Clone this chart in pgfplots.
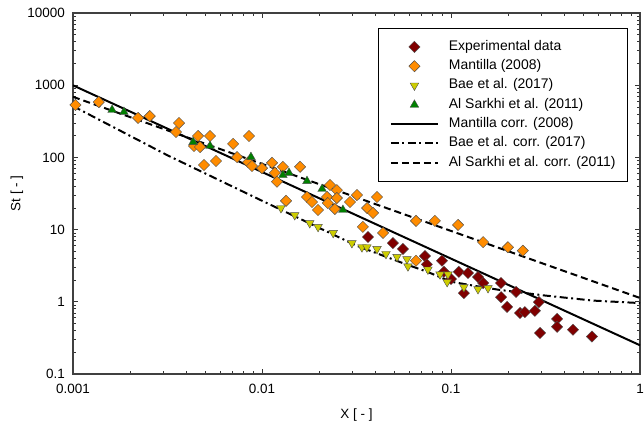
\documentclass[border=0pt]{standalone}
\usepackage{fontspec}
\setmainfont{Liberation Sans}
\usepackage{pgfplots}
\pgfplotsset{compat=1.18}
\definecolor{expred}{RGB}{128,0,0}
\definecolor{mantor}{RGB}{255,140,0}
\definecolor{baeyel}{RGB}{205,205,0}
\definecolor{sarkgr}{RGB}{0,128,0}
\begin{document}
\begin{tikzpicture}
\useasboundingbox (0,0) rectangle (644bp,435bp);
\begin{axis}[
  at={(73bp,61bp)}, anchor=south west,
  scale only axis, width=567bp, height=361bp,
  xmode=log, ymode=log,
  xmin=0.001, xmax=1, ymin=0.1, ymax=10000,
  xtick={0.001,0.01,0.1,1}, xticklabels={0.001,0.01,0.1,1},
  ytick={0.1,1,10,100,1000,10000}, yticklabels={0.1,1,10,100,1000,10000},
  tick align=inside,
  major tick length=5bp, minor tick length=3bp,
  every tick/.style={black!80, line width=0.7pt},
  axis line style={black!75, line width=1.2pt},
  font=\fontsize{13.5}{15}\selectfont,
  xticklabel style={inner sep=0pt, anchor=north, yshift=-10bp},
  yticklabel style={inner sep=0pt, anchor=east, xshift=-8bp},
  xlabel={X [ - ]}, ylabel={St [ - ]},
  xlabel style={at={(axis description cs:0.5,-0.1136)}, anchor=center},
  ylabel style={at={(axis description cs:-0.0988,0.5)}, anchor=center},
  legend cell align=left,
  legend style={at={(1,1)}, anchor=north east, xshift=-12bp, yshift=-15bp,
    draw=black, line width=0.8pt, inner xsep=12bp, inner ysep=12bp,
    font=\fontsize{14}{16}\selectfont, row sep=6.3bp, column sep=10bp,
    nodes={inner sep=0pt, text height=10bp, text depth=3bp}},
  legend image code/.code={\draw[mark repeat=2,mark phase=2,#1] plot coordinates {(0bp,0bp) (23.5bp,0bp) (47bp,0bp)};},
]
% Experimental data
\addplot[only marks, mark=square*, mark size=4pt, mark options={rotate=45, fill=expred, draw=black!70, line width=0.4pt}] coordinates {
(0.0364,7.9) (0.0493,6.5) (0.0557,5.4) (0.0728,4.3) (0.0745,3.3) (0.0896,3.7)
(0.0918,2.6) (0.100,2.07) (0.110,2.6) (0.123,2.5) (0.139,2.2) (0.148,1.82)
(0.117,1.32) (0.184,1.82) (0.184,1.16) (0.198,0.85) (0.221,1.37) (0.232,0.70)
(0.246,0.72) (0.278,0.75) (0.292,0.99) (0.296,0.37) (0.364,0.58) (0.364,0.45)
(0.442,0.41) (0.557,0.33)
};
\addlegendentry{Experimental data}
% Mantilla (2008)
\addplot[only marks, mark=square*, mark size=4pt, mark options={rotate=45, fill=mantor, draw=black!70, line width=0.4pt}] coordinates {
(0.00103,532) (0.00137,585) (0.00221,352) (0.00255,374) (0.00351,225) (0.00364,299)
(0.00437,144) (0.00459,198) (0.00470,139) (0.00493,78.5) (0.00531,198) (0.00571,89)
(0.00703,154) (0.00738,101) (0.00844,86) (0.00853,198) (0.00885,76) (0.0100,71)
(0.0113,84) (0.0117,61) (0.0120,46) (0.0129,74) (0.0159,74) (0.0134,25)
(0.0173,28.3) (0.0184,24.1) (0.0198,18.7) (0.0221,28.3) (0.0223,23.3) (0.0229,41.5)
(0.0243,19.3) (0.0249,35.3) (0.0249,27.4) (0.0292,24.1) (0.0318,30.1) (0.0342,10.9)
(0.0360,19.9) (0.0387,17.0) (0.0406,28.3) (0.0437,9.0) (0.0653,13.2) (0.0653,3.7)
(0.0822,13.2) (0.109,11.6) (0.148,6.7) (0.200,5.7) (0.240,5.1)
};
\addlegendentry{Mantilla (2008)}
% Bae et al. (2017)
\addplot[only marks, mark=triangle*, mark size=5pt, mark options={rotate=180, fill=baeyel, draw=black!70, line width=0.4pt}] coordinates {
(0.0126,19.9) (0.0149,15.9) (0.0179,12.3) (0.0198,10.9) (0.0238,9.0) (0.0299,6.5)
(0.0338,5.7) (0.0359,5.7) (0.0406,5.4) (0.0453,4.6) (0.0518,4.2) (0.0585,3.9)
(0.0592,3.1) (0.0755,2.8) (0.0875,2.4) (0.0964,2.4) (0.0954,1.88) (0.117,1.6)
(0.139,1.5) (0.157,1.55)
};
\addlegendentry{Bae et al. (2017)}
% Al Sarkhi et al. (2011)
\addplot[only marks, mark=triangle*, mark size=5pt, mark options={fill=sarkgr, draw=black!70, line width=0.4pt}] coordinates {
(0.00161,454) (0.00186,426) (0.00432,163) (0.00531,144) (0.00874,101)
(0.0129,57) (0.0139,61) (0.0173,47) (0.0208,36.5) (0.0268,18.7)
};
\addlegendentry{Al Sarkhi et al. (2011)}
% Mantilla corr.
\addplot[black, no marks, line width=2pt] coordinates {(0.001,995) (1,0.25)};
\addlegendentry{Mantilla corr. (2008)}
% Bae corr.
\addplot[black, no marks, line width=2pt, dash pattern=on 8bp off 3.5bp on 2bp off 3.5bp] coordinates {
(0.001,513) (0.00316,107) (0.01,25.1) (0.0316,6.0) (0.0562,3.4) (0.075,2.6)
(0.1,1.9) (0.134,1.66) (0.178,1.47) (0.316,1.22) (0.562,1.04) (1,0.96)
};
\addlegendentry{Bae et al. corr. (2017)}
% Al Sarkhi corr.
\addplot[black, no marks, line width=2pt, dash pattern=on 7bp off 4bp] coordinates {(0.001,690) (1,1.13)};
\addlegendentry{Al Sarkhi et al. corr. (2011)}
\end{axis}
\end{tikzpicture}
\end{document}
